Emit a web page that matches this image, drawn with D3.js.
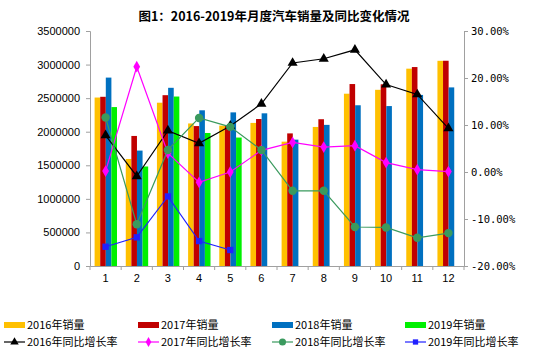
<!DOCTYPE html>
<html><head><meta charset="utf-8">
<script src="https://cdn.jsdelivr.net/npm/d3@7/dist/d3.min.js"></script>
<style>body{margin:0;background:#fff}svg{display:block}</style>
</head><body>
<script>
const months = ["1","2","3","4","5","6","7","8","9","10","11","12"];
const sales2016 = [2509000,1594000,2432000,2123000,2091000,2131000,1852000,2071000,2566000,2624000,2939000,3056000];
const sales2017 = [2520000,1937000,2544000,2084000,2096000,2189000,1975000,2186000,2710000,2706000,2963000,3057000];
const sales2018 = [2806000,1719000,2654000,2319000,2288000,2274000,1882000,2102000,2394000,2382000,2548000,2660000];
const sales2019 = [2367000,1482000,2524000,1981000,1913000];
const growth2016 = [7.8,-0.9,8.8,6.1,9.8,14.5,23.2,24.1,26.0,18.6,16.5,9.3];
const growth2017 = [0.2,22.4,4.0,-2.2,0.0,4.6,6.3,5.3,5.6,2.0,0.5,0.1];
const growth2018 = [11.6,-11.1,4.7,11.5,9.6,4.7,-4.0,-4.0,-11.7,-11.8,-14.0,-13.0];
const growth2019 = [-15.9,-13.9,-5.2,-14.7,-16.6];
const leftTicks = [0,500000,1000000,1500000,2000000,2500000,3000000,3500000];
const rightTicks = [-20,-10,0,10,20,30];
const salesNames = ["2016年销量","2017年销量","2018年销量","2019年销量"];
const growthNames = ["2016年同比增长率","2017年同比增长率","2018年同比增长率","2019年同比增长率"];

const W=550,H=351;
const L=90,R=464,T=31,B=266;
const svg=d3.select("body").append("svg").attr("width",W).attr("height",H);
svg.append("rect").attr("width",W).attr("height",H).attr("fill","#fff");

svg.append("text").attr("x",274).attr("y",21).attr("text-anchor","middle")
 .attr("font-family","'Noto Sans CJK SC'").attr("font-weight","bold").attr("font-size",12.5)
 .text("图1：2016-2019年月度汽车销量及同比变化情况");

const x0=d3.scaleBand().domain(months).range([L,R]).padding(0);
const x1=d3.scaleBand().domain([0,1,2,3]).range([4.6,27]).padding(0);
const yL=d3.scaleLinear().domain([0,3500000]).range([B,T]);
const yR=d3.scaleLinear().domain([-20,30]).range([B,T]);

const barColors=["#FFC000","#C00000","#0070C0","#00F000"];
const salesSeries=[sales2016,sales2017,sales2018,sales2019];
salesSeries.forEach((s,si)=>{
  svg.append("g").selectAll("rect").data(s).join("rect")
   .attr("x",(d,i)=>x0(months[i])+x1(si)).attr("width",x1.bandwidth())
   .attr("y",d=>yL(d)).attr("height",d=>B-yL(d)).attr("fill",barColors[si]);
});

const axisColor="#a0a0a0";
function styleAxis(g){
  g.selectAll(".domain").attr("stroke",axisColor);
  g.selectAll(".tick line").attr("stroke",axisColor);
  g.selectAll("text").attr("fill","#000");
}
const gl=svg.append("g").attr("transform",`translate(${L},0)`)
 .call(d3.axisLeft(yL).tickValues(leftTicks).tickFormat(d3.format("d")).tickSizeOuter(0).tickSize(4));
gl.selectAll("text").attr("font-family","'Liberation Sans',Arial").attr("font-size",11).attr("dx",-3);
styleAxis(gl);
const gr=svg.append("g").attr("transform",`translate(${R},0)`)
 .call(d3.axisRight(yR).tickValues(rightTicks).tickFormat(d=>d.toFixed(2)+"%").tickSizeOuter(0).tickSize(4));
gr.selectAll("text").attr("font-family","'DejaVu Sans Mono',monospace").attr("font-size",10.5).attr("dx",0);
styleAxis(gr);
const gb=svg.append("g").attr("transform",`translate(0,${B})`)
 .call(d3.axisBottom(x0).tickSize(0).tickSizeOuter(0));
gb.selectAll("text").attr("font-family","'Liberation Sans',Arial").attr("font-size",11).attr("dy","1.2em");
styleAxis(gb);
svg.append("g").selectAll("line").data(months.concat(["end"])).join("line")
 .attr("x1",(d,i)=>L+i*x0.step()).attr("x2",(d,i)=>L+i*x0.step())
 .attr("y1",B).attr("y2",B+4).attr("stroke",axisColor);

const lineColors=["#000000","#FF00FF","#3A9A5E","#2020FF"];
const growthSeries=[growth2016,growth2017,growth2018,growth2019];
const shapes=[d3.symbolTriangle,d3.symbolDiamond,d3.symbolCircle,d3.symbolSquare];
const sizes=[44,40,56,40];
const cx=i=>x0(months[i])+x0.bandwidth()/2;
growthSeries.forEach((s,si)=>{
  const line=d3.line().x((d,i)=>cx(i)).y(d=>yR(d));
  svg.append("path").datum(s).attr("d",line).attr("fill","none")
   .attr("stroke",lineColors[si]).attr("stroke-width",1.2);
  svg.append("g").selectAll("path").data(s).join("path")
   .attr("transform",(d,i)=>`translate(${cx(i)},${yR(d)})`)
   .attr("d",d3.symbol().type(shapes[si]).size(sizes[si]))
   .attr("fill",lineColors[si]);
});

const colX=[4,138,272,405];
const lg=svg.append("g").attr("font-family","'Noto Sans CJK SC'").attr("font-size",11);
salesNames.forEach((n,i)=>{
  lg.append("rect").attr("x",colX[i]).attr("y",322).attr("width",21).attr("height",6).attr("fill",barColors[i]);
  lg.append("text").attr("x",colX[i]+23).attr("y",329).text(n);
});
growthNames.forEach((n,i)=>{
  lg.append("line").attr("x1",colX[i]).attr("x2",colX[i]+21).attr("y1",342).attr("y2",342)
   .attr("stroke",lineColors[i]).attr("stroke-width",1.2);
  lg.append("path").attr("transform",`translate(${colX[i]+10.5},342)`)
   .attr("d",d3.symbol().type(shapes[i]).size(sizes[i]*0.7)).attr("fill",lineColors[i]);
  lg.append("text").attr("x",colX[i]+23).attr("y",346).text(n);
});
</script>
</body></html>
